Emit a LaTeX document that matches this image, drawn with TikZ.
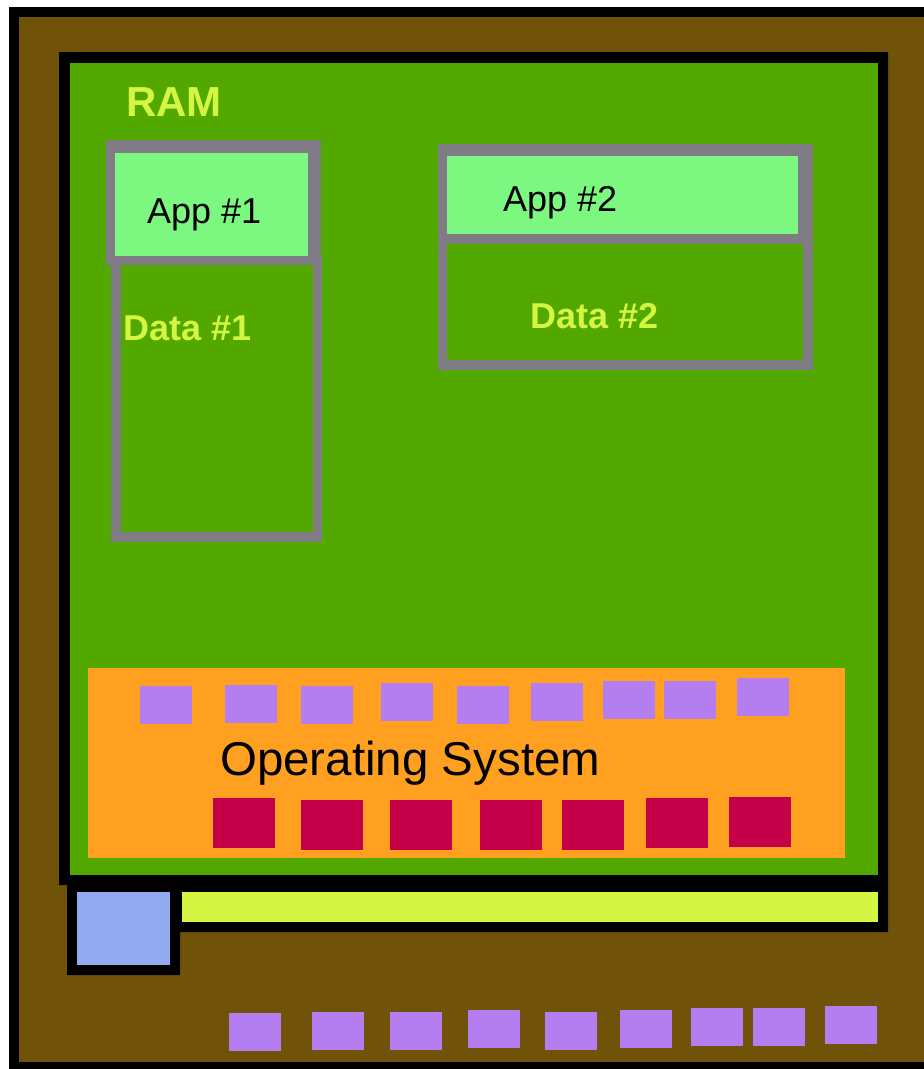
\documentclass[tikz,border=0pt]{standalone}
\usepackage{fontspec}
\setmainfont{Liberation Sans}
\usepackage{xcolor}
\definecolor{boardbrown}{RGB}{112,83,8}
\definecolor{ramgreen}{RGB}{83,168,0}
\definecolor{appgreen}{RGB}{124,248,128}
\definecolor{framegrey}{RGB}{128,124,134}
\definecolor{limeyellow}{RGB}{212,245,66}
\definecolor{osorange}{RGB}{255,160,32}
\definecolor{chippurple}{RGB}{180,126,240}
\definecolor{regred}{RGB}{196,0,72}
\definecolor{cacheblue}{RGB}{145,170,240}
\usepackage{tikz}
\usetikzlibrary{positioning}
\tikzstyle{apptext}=[inner sep=0pt, anchor=base west, text=black, font=\fontsize{36}{40}\selectfont]
\tikzstyle{datatext}=[inner sep=0pt, anchor=base west, text=limeyellow, font=\bfseries\fontsize{36}{40}\selectfont]
\tikzstyle{chip}=[fill=chippurple]
\tikzstyle{register}=[fill=regred]

\begin{document}
\begin{tikzpicture}[x=1pt, y=-1pt]
	\useasboundingbox (0,0) rectangle (924,1069);
	\fill[white] (0,0) rectangle (924,1069);

	% board
	\fill[black] (9,7) rectangle (924,1069);
	\fill[boardbrown] (19,17) rectangle (924,1062);

	% RAM frame with cache and bus
	\fill[black] (59,52) -- (888,52) -- (888,932) -- (180,932) -- (180,975)
		-- (67,975) -- (67,885) -- (59,885) -- cycle;
	\fill[ramgreen] (70,63) rectangle (878,875);
	\fill[limeyellow] (182,892) rectangle (878,922);
	\fill[cacheblue] (77,892) rectangle (170,965);

	\node[inner sep=0pt, anchor=base west, text=limeyellow, font=\bfseries\fontsize{42}{46}\selectfont] (ram) at (126,116) {RAM};

	% app 1
	\fill[framegrey] (111,256) rectangle (322,542);
	\fill[framegrey] (106,140) rectangle (321,265);
	\fill[appgreen] (115,153) rectangle (308,256);
	\fill[ramgreen] (121,265) rectangle (313,532);
	\node[apptext] (app1) at (147,223) {App \#1};
	\node[datatext] (data1) at (123,340) {Data \#1};

	% app 2
	\fill[framegrey] (438,144) rectangle (813,370);
	\fill[appgreen] (447,156) rectangle (798,234);
	\fill[ramgreen] (447,244) rectangle (803,360);
	\node[apptext] (app2) at (503,211) {App \#2};
	\node[datatext] (data2) at (530,328) {Data \#2};

	% operating system
	\fill[osorange] (88,668) rectangle (845,858);
	\foreach \x/\y in {140/686, 225/685, 301/686, 381/683, 457/686, 531/683, 603/681, 664/681, 737/678}
		\fill[chip] (\x,\y) rectangle ++(52,38);
	\foreach \x/\y in {213/798, 301/800, 390/800, 480/800, 562/800, 646/798, 729/797}
		\fill[register] (\x,\y) rectangle ++(62,50);
	\node[inner sep=0pt, anchor=base west, font=\fontsize{47.5}{50}\selectfont] (os) at (220,775) {Operating System};

	% chips on the board
	\foreach \x/\y in {229/1013, 312/1012, 390/1012, 468/1010, 545/1012, 620/1010, 691/1008, 753/1008, 825/1006}
		\fill[chip] (\x,\y) rectangle ++(52,38);
\end{tikzpicture}
\end{document}
